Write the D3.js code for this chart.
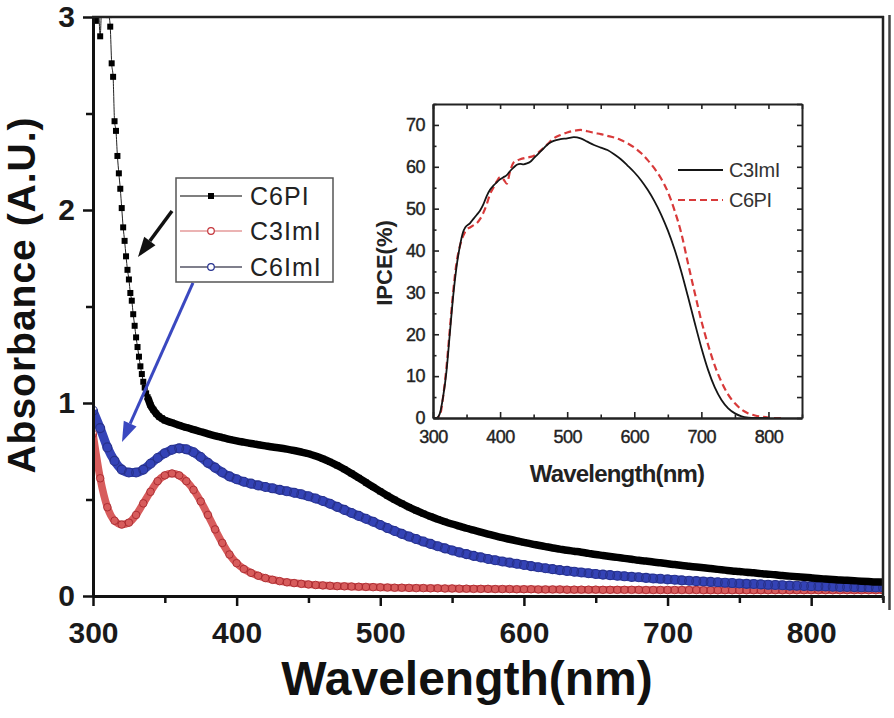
<!DOCTYPE html>
<html><head><meta charset="utf-8">
<script src="https://cdn.jsdelivr.net/npm/d3@7"></script>
<style>body{margin:0;background:#fff}svg{display:block}</style>
</head><body>
<script>
// ---------- Main chart data (absorbance) ----------
const absWl = [300,305,310,315,320,325,330,335,340,345,350,355,360,365,370,375,380,385,390,395,400,405,410,415,420,425,430,435,440,445,450,455,460,465,470,475,480,485,490,495,500,505,510,515,520,525,530,535,540,545,550,555,560,565,570,575,580,585,590,595,600,605,610,615,620,625,630,635,640,645,650,655,660,665,670,675,680,685,690,695,700,705,710,715,720,725,730,735,740,745,750,755,760,765,770,775,780,785,790,795,800,805,810,815,820,825,830,835,840,845,850];
const c6imiAbs = [0.96,0.87,0.77,0.70,0.655,0.64,0.64,0.655,0.685,0.715,0.74,0.758,0.765,0.76,0.745,0.72,0.69,0.665,0.64,0.62,0.605,0.592,0.582,0.573,0.565,0.558,0.55,0.543,0.535,0.527,0.517,0.505,0.492,0.478,0.462,0.446,0.43,0.415,0.40,0.385,0.368,0.352,0.337,0.322,0.308,0.295,0.282,0.27,0.258,0.247,0.236,0.226,0.217,0.208,0.2,0.192,0.185,0.179,0.173,0.167,0.161,0.155,0.149,0.144,0.139,0.134,0.13,0.126,0.122,0.118,0.114,0.111,0.108,0.105,0.102,0.099,0.097,0.094,0.091,0.089,0.086,0.084,0.081,0.079,0.077,0.075,0.073,0.071,0.069,0.067,0.065,0.063,0.062,0.06,0.058,0.057,0.056,0.054,0.053,0.052,0.051,0.05,0.049,0.048,0.047,0.047,0.046,0.045,0.045,0.044,0.044];
const c3imiAbs = [0.84,0.61,0.46,0.39,0.37,0.38,0.42,0.48,0.54,0.595,0.625,0.635,0.625,0.595,0.55,0.49,0.42,0.345,0.275,0.215,0.17,0.14,0.12,0.105,0.093,0.084,0.077,0.071,0.067,0.063,0.06,0.057,0.055,0.053,0.051,0.05,0.049,0.048,0.047,0.046,0.045,0.044,0.043,0.043,0.042,0.041,0.041,0.04,0.04,0.039,0.039,0.038,0.038,0.037,0.037,0.037,0.036,0.036,0.036,0.035,0.035,0.035,0.034,0.034,0.034,0.034,0.033,0.033,0.033,0.033,0.033,0.032,0.032,0.032,0.032,0.032,0.032,0.031,0.031,0.031,0.031,0.031,0.031,0.031,0.031,0.03,0.03,0.03,0.03,0.03,0.03,0.03,0.03,0.03,0.03,0.03,0.03,0.03,0.03,0.03,0.03,0.03,0.03,0.03,0.03,0.03,0.03,0.03,0.03,0.03,0.03];
const c6piWl = [300,301,302,303,304,305,306,307,308,309,310,311,312,313,314,315,316,317,318,319,320,321,322,323,324,325,326,327,328,329,330,331,332,333,334,335,336,337,338,339,340,342,344,346,348,350,355,360,365,370,375,380,385,390,395,400,405,410,415,420,425,430,435,440,445,450,455,460,465,470,475,480,485,490,495,500,505,510,515,520,525,530,535,540,545,550,555,560,565,570,575,580,585,590,595,600,605,610,615,620,625,630,635,640,645,650,655,660,665,670,675,680,685,690,695,700,705,710,715,720,725,730,735,740,745,750,755,760,765,770,775,780,785,790,795,800,805,810,815,820,825,830,835,840,845,850];
const c6piAbs = [3.08,3.04,2.98,3.06,3.02,2.90,3.05,3.08,3.04,3.07,3.03,3.01,2.95,2.76,2.69,2.46,2.41,2.28,2.19,2.11,2.01,1.91,1.84,1.76,1.69,1.64,1.57,1.53,1.46,1.40,1.34,1.29,1.24,1.19,1.15,1.11,1.08,1.05,1.03,1.01,0.99,0.965,0.945,0.93,0.92,0.91,0.898,0.885,0.873,0.862,0.851,0.84,0.83,0.821,0.812,0.804,0.797,0.79,0.784,0.778,0.772,0.767,0.761,0.754,0.746,0.737,0.725,0.711,0.695,0.677,0.657,0.635,0.612,0.588,0.565,0.542,0.52,0.499,0.479,0.46,0.443,0.427,0.412,0.398,0.385,0.373,0.362,0.351,0.341,0.331,0.321,0.311,0.302,0.294,0.286,0.278,0.27,0.263,0.256,0.249,0.243,0.237,0.232,0.227,0.221,0.215,0.21,0.205,0.2,0.195,0.19,0.185,0.181,0.176,0.172,0.167,0.163,0.158,0.154,0.15,0.146,0.142,0.138,0.134,0.13,0.127,0.123,0.12,0.116,0.113,0.11,0.106,0.103,0.1,0.097,0.094,0.091,0.088,0.086,0.083,0.081,0.079,0.077,0.075,0.073,0.072];
const xTicksMain = [300,400,500,600,700,800];
const xMinorMain = [350,450,550,650,750,850];
const yTicksMain = [0,1,2,3];
const yMinorMain = [0.5,1.5,2.5];
const legendNames = ["C6PI","C3ImI","C6ImI"];

// ---------- Inset data (IPCE) ----------
const ipceWlC3 = [300,305,310,315,320,325,330,335,340,345,348,355,360,365,370,375,380,385,390,395,400,405,410,415,420,425,430,435,440,445,450,455,460,465,470,475,480,490,500,510,520,530,540,550,560,570,580,590,600,610,620,630,640,650,660,670,680,690,700,710,720,730,740,750,760,770,780,800];
const ipceC3 = [0,0,1,5,11,20,29,36,41,44.5,45.5,46.5,47.5,48.5,49.5,51,53,54.5,55.5,56.3,57,57.5,58,59,59.8,60.5,60.7,60.6,60.8,61.2,62,62.8,63.6,64.4,65.2,65.8,66.2,66.6,66.8,67.1,66.8,66,65.2,64.6,64,63,61.8,60.3,58.7,56.8,54.5,51.8,48.6,44.8,40.3,35,29,22.8,16.8,11.5,7.3,4.3,2.3,1.1,0.4,0.1,0,0];
const ipceWlC6 = [300,305,310,315,320,325,330,335,340,345,350,355,360,365,370,375,380,385,390,395,400,405,410,415,420,425,430,440,450,460,470,480,490,500,510,520,530,540,550,560,570,580,590,600,610,620,630,640,650,660,670,680,690,700,710,720,730,740,750,760,770,780,790,800,810,820];
const ipceC6 = [0,0,0.5,5,12,21,30,37,41,43.5,45,45.5,46,46.5,47.5,49,51,53.5,55,56.5,57.5,57,56,59,61,61.5,61.8,62.2,62.6,63.8,65.3,66.8,67.6,68.2,68.6,68.8,68.5,68.1,67.8,67.4,67,66.4,65.6,64.6,63.3,61.6,59.6,57.2,54,49.6,44.2,37,30,23.2,17.5,12.5,8.6,5.6,3.5,2,1.1,0.6,0.3,0.1,0,0];
const xTicksInset = [300,400,500,600,700,800];
const xMinorInset = [350,450,550,650,750,850];
const yTicksInset = [0,10,20,30,40,50,60,70];
const yMinorInset = [5,15,25,35,45,55,65,75];
const insetNames = ["C3ImI","C6PI"];

// ---------- Drawing ----------
const W = 894, H = 718;
const FONT = "'Liberation Sans', Arial, Helvetica, sans-serif";
const svg = d3.select("body").append("svg").attr("width", W).attr("height", H);
svg.append("rect").attr("width", W).attr("height", H).attr("fill", "#fff");

const x = d3.scaleLinear().domain([300, 850]).range([93, 883]);
const y = d3.scaleLinear().domain([0, 3]).range([596, 17]);

const defs = svg.append("defs");
defs.append("clipPath").attr("id", "clipMain").append("rect")
  .attr("x", 93).attr("y", 17).attr("width", 790).attr("height", 579);

const pts = (wl, v) => wl.map((w, i) => ({ w, v: v[i] }));
const line = d3.line().x(d => x(d.w)).y(d => y(d.v)).curve(d3.curveMonotoneX);
const plot = svg.append("g").attr("clip-path", "url(#clipMain)");

// C3ImI (red hollow circles)
const red = pts(absWl, c3imiAbs);
plot.append("path").datum(red).attr("d", line).attr("fill", "none")
  .attr("stroke", "#d75c5c").attr("stroke-width", 7.5);
plot.append("g").selectAll("circle").data(red).enter().append("circle")
  .attr("cx", d => x(d.w)).attr("cy", d => y(d.v)).attr("r", 3.8)
  .attr("fill", "none").attr("stroke", "#a8282e").attr("stroke-width", 0.9);

// C6ImI (blue hollow circles)
const blue = pts(absWl, c6imiAbs);
plot.append("path").datum(blue).attr("d", line).attr("fill", "none")
  .attr("stroke", "#3443b6").attr("stroke-width", 9);
plot.append("g").selectAll("circle").data(blue).enter().append("circle")
  .attr("cx", d => x(d.w)).attr("cy", d => y(d.v)).attr("r", 4.5)
  .attr("fill", "none").attr("stroke", "#27318a").attr("stroke-width", 1.1);

// C6PI (black squares)
const black = pts(c6piWl, c6piAbs);
plot.append("path").datum(black).attr("d", line).attr("fill", "none")
  .attr("stroke", "#222").attr("stroke-width", 1);
plot.append("path").datum(black.filter(d => d.w >= 338)).attr("d", line).attr("fill", "none")
  .attr("stroke", "#000").attr("stroke-width", 7.5);
plot.append("g").selectAll("rect").data(black).enter().append("rect")
  .attr("x", d => x(d.w) - 3).attr("y", d => y(d.v) - 3)
  .attr("width", 6).attr("height", 6).attr("fill", "#000");

// Main axes
svg.append("g").attr("transform", "translate(0,596)")
  .call(d3.axisBottom(x).tickValues(xTicksMain).tickSize(10).tickSizeOuter(0).tickPadding(16).tickFormat(d3.format("d")));
svg.append("g").attr("transform", "translate(0,596)")
  .call(d3.axisBottom(x).tickValues(xMinorMain).tickSize(7).tickSizeOuter(0).tickFormat(""))
  .call(g => g.select(".domain").remove());
svg.append("g").attr("transform", "translate(93,0)")
  .call(d3.axisLeft(y).tickValues(yTicksMain).tickSize(10).tickSizeOuter(0).tickPadding(8).tickFormat(d3.format("d")));
svg.append("g").attr("transform", "translate(93,0)")
  .call(d3.axisLeft(y).tickValues(yMinorMain).tickSize(7).tickSizeOuter(0).tickFormat(""))
  .call(g => g.select(".domain").remove());
svg.selectAll(".domain").attr("stroke", "#111").attr("stroke-width", 3);
svg.selectAll(".tick line").attr("stroke", "#111").attr("stroke-width", 2.5);
svg.selectAll(".tick text").attr("font-family", FONT).attr("font-weight", "bold")
  .attr("font-size", 30).attr("fill", "#1a1a1a");

// Frame top/right
svg.append("line").attr("x1", 92).attr("x2", 884).attr("y1", 17).attr("y2", 17)
  .attr("stroke", "#222").attr("stroke-width", 2.5);
svg.append("line").attr("x1", 883).attr("x2", 883).attr("y1", 16).attr("y2", 600)
  .attr("stroke", "#222").attr("stroke-width", 2.5);
svg.append("line").attr("x1", 889.5).attr("x2", 889.5).attr("y1", 15).attr("y2", 610)
  .attr("stroke", "#444").attr("stroke-width", 2.5);

// Axis titles
svg.append("text").attr("x", 467).attr("y", 695).attr("text-anchor", "middle")
  .attr("font-family", FONT).attr("font-weight", "bold").attr("font-size", 48)
  .attr("fill", "#111").text("Wavelength(nm)");
svg.append("text").attr("transform", "translate(35,295) rotate(-90)").attr("text-anchor", "middle")
  .attr("font-family", FONT).attr("font-weight", "bold").attr("font-size", 39)
  .attr("letter-spacing", 1).attr("fill", "#111").text("Absorbance (A.U.)");

// Arrows (annotations, positioned in data space)
function arrow(x0, y0, x1, y1, color, width) {
  const X0 = x(x0), Y0 = y(y0), X1 = x(x1), Y1 = y(y1);
  const ang = Math.atan2(Y1 - Y0, X1 - X0);
  const L = 20, hw = 7;
  const bx = X1 - L * Math.cos(ang), by = Y1 - L * Math.sin(ang);
  svg.append("line").attr("x1", X0).attr("y1", Y0).attr("x2", bx).attr("y2", by)
    .attr("stroke", color).attr("stroke-width", width);
  const px = -Math.sin(ang), py = Math.cos(ang);
  svg.append("path").attr("d", `M${X1},${Y1}L${bx + px * hw},${by + py * hw}L${bx - px * hw},${by - py * hw}Z`)
    .attr("fill", color);
}
arrow(355, 1.995, 331.3, 1.756, "#111", 3.5);
arrow(369.6, 1.622, 320.2, 0.798, "#3a48c0", 3);

// Legend
const lg = svg.append("g");
lg.append("rect").attr("x", 176).attr("y", 178).attr("width", 157).attr("height", 104)
  .attr("fill", "#fff").attr("stroke", "#555").attr("stroke-width", 1.5);
const ly = [196, 231, 267];
const lineCols = ["#555", "#e59a9a", "#556"];
legendNames.forEach((n, i) => {
  lg.append("line").attr("x1", 180).attr("x2", 242).attr("y1", ly[i]).attr("y2", ly[i])
    .attr("stroke", lineCols[i]).attr("stroke-width", 1.3);
  if (i === 0) lg.append("rect").attr("x", 208).attr("y", ly[i] - 3).attr("width", 6).attr("height", 6).attr("fill", "#000");
  else lg.append("circle").attr("cx", 211).attr("cy", ly[i]).attr("r", 3.3).attr("fill", "#fff")
    .attr("stroke", i === 1 ? "#c4353b" : "#26318f").attr("stroke-width", 1.2);
  lg.append("text").attr("x", 250).attr("y", ly[i] + 9).attr("font-family", FONT)
    .attr("font-size", 25).attr("letter-spacing", 1).attr("fill", "#222").text(n);
});

// ---------- Inset ----------
const xi = d3.scaleLinear().domain([300, 850]).range([433, 802]);
const yi = d3.scaleLinear().domain([0, 75]).range([418, 104]);
const inset = svg.append("g");
inset.append("rect").attr("x", 433).attr("y", 104).attr("width", 369).attr("height", 314).attr("fill", "#fff");
const iline = d3.line().x(d => xi(d.w)).y(d => yi(d.v)).curve(d3.curveMonotoneX);
inset.append("path").datum(pts(ipceWlC6, ipceC6)).attr("d", iline).attr("fill", "none")
  .attr("stroke", "#d83a3a").attr("stroke-width", 2.2).attr("stroke-dasharray", "7,4");
inset.append("path").datum(pts(ipceWlC3, ipceC3)).attr("d", iline).attr("fill", "none")
  .attr("stroke", "#151515").attr("stroke-width", 1.8);

const ia = inset.append("g");
ia.append("g").attr("transform", "translate(0,418)")
  .call(d3.axisBottom(xi).tickValues(xTicksInset).tickSize(-6).tickSizeOuter(0).tickPadding(12).tickFormat(d3.format("d")));
ia.append("g").attr("transform", "translate(0,418)")
  .call(d3.axisBottom(xi).tickValues(xMinorInset).tickSize(-3.5).tickSizeOuter(0).tickFormat(""));
ia.append("g").attr("transform", "translate(0,104)")
  .call(d3.axisTop(xi).tickValues(xTicksInset.concat(xMinorInset)).tickSize(-5).tickSizeOuter(0).tickFormat(""));
ia.append("g").attr("transform", "translate(433,0)")
  .call(d3.axisLeft(yi).tickValues(yTicksInset).tickSize(-6).tickSizeOuter(0).tickPadding(8).tickFormat(d3.format("d")));
ia.append("g").attr("transform", "translate(433,0)")
  .call(d3.axisLeft(yi).tickValues(yMinorInset).tickSize(-3.5).tickSizeOuter(0).tickFormat(""));
ia.append("g").attr("transform", "translate(802,0)")
  .call(d3.axisRight(yi).tickValues(yTicksInset.concat(yMinorInset)).tickSize(-5).tickSizeOuter(0).tickFormat(""));
ia.selectAll(".domain").attr("stroke", "#222").attr("stroke-width", 2);
ia.selectAll(".tick line").attr("stroke", "#222").attr("stroke-width", 1.6);
ia.selectAll(".tick text").attr("font-family", FONT).attr("font-size", 18)
  .attr("fill", "#222").attr("stroke", "#222").attr("stroke-width", 0.4).attr("letter-spacing", -0.5);

inset.append("text").attr("x", 617).attr("y", 482).attr("text-anchor", "middle")
  .attr("font-family", FONT).attr("font-weight", "bold").attr("font-size", 24).attr("letter-spacing", -0.8)
  .attr("fill", "#222").text("Wavelength(nm)");
inset.append("text").attr("transform", "translate(392,263) rotate(-90)").attr("text-anchor", "middle")
  .attr("font-family", FONT).attr("font-weight", "bold").attr("font-size", 22)
  .attr("fill", "#222").text("IPCE(%)");

// Inset legend
const ily = [170, 200];
inset.append("line").attr("x1", 678).attr("x2", 723).attr("y1", ily[0]).attr("y2", ily[0])
  .attr("stroke", "#151515").attr("stroke-width", 1.8);
inset.append("line").attr("x1", 678).attr("x2", 723).attr("y1", ily[1]).attr("y2", ily[1])
  .attr("stroke", "#d83a3a").attr("stroke-width", 2.2).attr("stroke-dasharray", "7,4");
insetNames.forEach((n, i) => {
  inset.append("text").attr("x", 729).attr("y", ily[i] + 7).attr("font-family", FONT)
    .attr("font-size", 20).attr("letter-spacing", -0.5).attr("fill", "#333").text(n);
});
</script>
</body></html>
